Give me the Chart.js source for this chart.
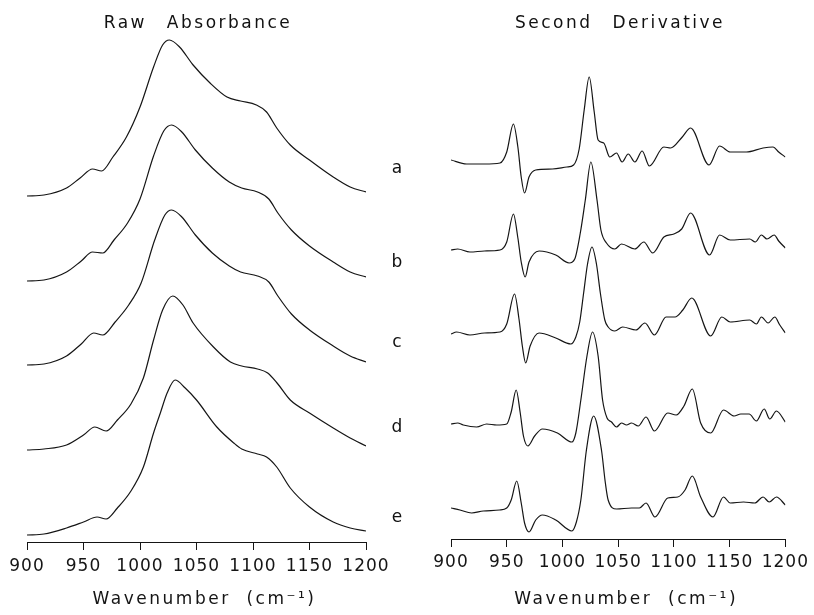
<!DOCTYPE html>
<html>
<head>
<meta charset="utf-8">
<script src="https://cdn.jsdelivr.net/npm/chart.js@4.4.1/dist/chart.umd.min.js"></script>
<style>
html,body{margin:0;padding:0;background:#fff;}
#wrap{position:relative;width:814px;height:615px;overflow:hidden;background:#fff;}
canvas{position:absolute;top:0;}
#cRaw{left:0;}
#cDer{left:405px;}
.t{position:absolute;font-family:'DejaVu Sans',sans-serif;color:#111;white-space:pre;transform:translate(-50%,-50%);line-height:1;font-size:17px;}
.title{letter-spacing:2.5px;word-spacing:12px;}
</style>
</head>
<body>
<div id="wrap">
<canvas id="cRaw" width="405" height="615"></canvas>
<canvas id="cDer" width="409" height="615"></canvas>
</div>
<script>
// ---------- text ----------
const panelTitles = ['Raw Absorbance', 'Second Derivative'];
const axisTitle = 'Wavenumber  (cm\u207B\u00B9)';
const traceLabels = ['a', 'b', 'c', 'd', 'e'];
const xTicks = [900, 950, 1000, 1050, 1100, 1150, 1200];

// ---------- raw absorbance (relative to each trace's own baseline) ----------
const rawX_a = [900,915,935,947,958,966,976,988,1000,1012,1020,1026,1035,1047,1062,1077,1089,1103,1112,1121,1133,1150,1171,1186,1200];
const rawY_a = [0,0.01,0.08,0.18,0.27,0.25,0.39,0.59,0.89,1.29,1.51,1.56,1.49,1.31,1.13,0.99,0.95,0.91,0.84,0.68,0.51,0.36,0.19,0.09,0.04];
const rawX_b = [900,915,935,948,958,967,977,989,1000,1012,1021,1028,1037,1049,1064,1079,1090,1104,1114,1122,1134,1150,1171,1186,1200];
const rawY_b = [0,0.01,0.09,0.20,0.29,0.28,0.41,0.58,0.82,1.25,1.50,1.56,1.49,1.31,1.13,0.99,0.93,0.89,0.82,0.68,0.51,0.35,0.19,0.09,0.04];
const rawX_c = [900,915,935,948,959,967,978,990,1001,1013,1022,1028,1037,1049,1064,1079,1089,1104,1114,1122,1134,1150,1171,1186,1200];
const rawY_c = [0,0.01,0.09,0.21,0.32,0.30,0.43,0.60,0.82,1.25,1.50,1.55,1.48,1.30,1.12,0.99,0.93,0.89,0.83,0.69,0.51,0.35,0.19,0.09,0.03];
const rawX_d = [900,915,935,950,960,970,980,992,1003,1012,1020,1029,1038,1047,1065,1080,1090,1104,1113,1122,1133,1150,1171,1186,1200];
const rawY_d = [0,0.01,0.05,0.15,0.23,0.19,0.30,0.46,0.72,1.10,1.40,1.54,1.45,1.27,1.03,0.88,0.84,0.81,0.77,0.66,0.50,0.37,0.22,0.12,0.04];
const rawX_e = [900,915,935,950,962,970,980,992,1003,1012,1018,1024,1031,1040,1050,1068,1083,1090,1104,1112,1121,1133,1150,1171,1186,1200];
const rawY_e = [0,0.01,0.07,0.13,0.18,0.16,0.27,0.44,0.68,1.02,1.22,1.42,1.55,1.47,1.35,1.08,0.92,0.86,0.81,0.78,0.68,0.47,0.28,0.13,0.07,0.04];
const rawOffsets = [3.46, 2.61, 1.77, 0.92, 0.07];

// ---------- second derivative (relative to each trace's own baseline) ----------
const derX_a = [900,914,930,944,950,956,960,963,966,970,976,991,1004,1010,1015,1019.5,1024,1028.5,1032,1037,1042.5,1048.5,1053.5,1059,1065,1071.5,1078,1091,1097,1107.5,1115,1131.5,1141,1150.5,1165,1180,1189,1194,1200];
const derY_a = [0,-0.04,-0.04,-0.03,0.08,0.36,0.13,-0.17,-0.33,-0.17,-0.10,-0.09,-0.07,-0.05,0.11,0.50,0.83,0.48,0.20,0.17,0.03,0.07,-0.02,0.06,-0.02,0.09,-0.06,0.13,0.12,0.23,0.32,-0.05,0.14,0.08,0.08,0.12,0.13,0.08,0.03];
const derX_b = [900,906,917,930,944,950,956,960,963,966.5,970,979,994,1006,1011,1016,1020.5,1025.5,1031,1034.5,1039.5,1047,1053,1065,1073,1081,1091,1100,1107,1115,1132,1141,1150.5,1168,1173,1178.5,1183.5,1190,1194,1200];
const derY_b = [0,0.01,-0.02,-0.01,0,0.08,0.36,0.12,-0.12,-0.27,-0.12,-0.01,-0.05,-0.13,-0.09,0.17,0.50,0.88,0.50,0.20,0.07,0.01,0.06,0.01,0.08,-0.03,0.13,0.16,0.21,0.37,-0.05,0.15,0.10,0.11,0.08,0.15,0.11,0.15,0.09,0.02];
const derX_c = [900,905,917,930,944,950,957,961,964,967,971,979,994,1007.5,1012,1015.5,1019,1022.5,1026.5,1030.5,1034,1038,1041,1047,1054,1066,1074,1082.5,1093,1101,1108,1116,1133,1143,1150.5,1168,1174,1178.5,1184.5,1190.5,1195,1200];
const derY_c = [0,0.02,-0.01,0.01,0.02,0.10,0.40,0.15,-0.12,-0.29,-0.12,0.01,-0.04,-0.10,-0.03,0.12,0.41,0.70,0.87,0.70,0.41,0.14,0.07,0.03,0.07,0.04,0.11,-0.01,0.17,0.17,0.24,0.36,-0.02,0.17,0.12,0.14,0.10,0.17,0.11,0.17,0.09,0.01];
const derX_d = [900,906,911,923,932,941,950,954,958.5,962,965,969,975,982,995.5,1008.5,1012,1016.5,1022,1027,1032,1036,1040,1044,1048.5,1053,1057.5,1062,1068,1075,1082.5,1094.5,1102,1109,1116.5,1124,1133,1144.5,1154,1160,1167.5,1174,1181,1186,1192,1200];
const derY_d = [0,0.01,-0.01,-0.03,0,-0.01,0,0.12,0.34,0.12,-0.12,-0.22,-0.12,-0.05,-0.09,-0.18,-0.09,0.24,0.68,0.92,0.68,0.24,0.06,0.02,-0.03,0.01,-0.01,0.01,-0.02,0.07,-0.07,0.11,0.09,0.18,0.35,0.01,-0.09,0.14,0.08,0.10,0.10,0.03,0.15,0.05,0.13,0.02];
const derX_e = [900,908,918.5,929,943.5,950,954,959,963,966,970,976,982,994,1008.5,1012.5,1016.5,1021.5,1028,1035,1038.5,1041,1048.5,1062,1069,1075,1083,1094.5,1103.5,1110,1116.5,1124,1135,1144.5,1150.5,1162.5,1172.5,1180,1185.5,1192,1200];
const derY_e = [0,-0.02,-0.05,-0.03,-0.02,0,0.08,0.27,0.05,-0.15,-0.24,-0.12,-0.07,-0.12,-0.23,-0.14,0.08,0.58,0.92,0.58,0.25,0.08,-0.01,0,0,0.05,-0.09,0.10,0.11,0.18,0.32,0.11,-0.09,0.11,0.05,0.06,0.05,0.11,0.06,0.11,0.03];
const derOffsets = [3.79, 2.89, 2.05, 1.15, 0.31];

// ---------- build ----------
const FONT = "'DejaVu Sans', sans-serif";
const INK = '#151515';

function buildDatasets(xs, ys, offs) {
  return xs.map((xArr, i) => ({
    label: traceLabels[i],
    data: xArr.map((x, j) => ({ x: x, y: ys[i][j] + offs[i] })),
    borderColor: INK,
    borderWidth: 1.2,
    pointRadius: 0,
    fill: false,
    cubicInterpolationMode: 'monotone'
  }));
}

const spacingPlugin = {
  id: 'spacing',
  beforeLayout(chart) { chart.ctx.letterSpacing = '1px'; },
  beforeDraw(chart) {
    chart.ctx.letterSpacing = '1px';
    const s = chart.scales.x;
    if (!s._spaced) {
      const orig = s.drawTitle;
      s.drawTitle = function () {
        const c = this.ctx;
        c.save();
        c.letterSpacing = '2.5px';
        c.translate(8, 0);
        orig.apply(this, arguments);
        c.restore();
      };
      s._spaced = true;
    }
  }
};

function makeChart(id, datasets, yMax, pad, tickPad, axisH) {
  return new Chart(document.getElementById(id), {
    type: 'line',
    data: { datasets: datasets },
    options: {
      responsive: false,
      animation: false,
      events: [],
      layout: { padding: pad },
      plugins: { legend: { display: false }, tooltip: { enabled: false }, title: { display: false } },
      scales: {
        x: {
          type: 'linear',
          position: 'bottom',
          min: 900,
          max: 1200,
          afterBuildTicks(s) { s.ticks = xTicks.map(v => ({ value: v })); },
          afterFit(s) { s.height = axisH; },
          ticks: {
            color: INK,
            padding: tickPad,
            maxRotation: 0,
            autoSkip: false,
            font: { family: FONT, size: 17 },
            callback: v => String(v)
          },
          grid: { drawOnChartArea: false, drawTicks: true, tickLength: 8, color: INK, lineWidth: 1 },
          border: { display: true, color: INK, width: 1 },
          title: { display: true, text: axisTitle, color: INK, font: { family: FONT, size: 17 }, padding: { top: 0, bottom: 5 } }
        },
        y: { display: false, min: 0, max: yMax }
      }
    },
    plugins: [spacingPlugin]
  });
}

makeChart('cRaw',
  buildDatasets([rawX_a, rawX_b, rawX_c, rawX_d, rawX_e], [rawY_a, rawY_b, rawY_c, rawY_d, rawY_e], rawOffsets),
  5.12, { left: 27, right: 39, top: 30, bottom: 0 }, 6, 73);

makeChart('cDer',
  buildDatasets([derX_a, derX_b, derX_c, derX_d, derX_e], [derY_a, derY_b, derY_c, derY_d, derY_e], derOffsets),
  5.09, { left: 46, right: 25, top: 30, bottom: 0 }, 5, 76);

// ---------- html text ----------
const wrap = document.getElementById('wrap');
const titleCenters = [[198, 22], [620, 22]];
panelTitles.forEach((t, i) => {
  const d = document.createElement('div');
  d.className = 't title';
  d.textContent = t;
  d.style.left = titleCenters[i][0] + 'px';
  d.style.top = titleCenters[i][1] + 'px';
  wrap.appendChild(d);
});
const labelCenters = [167, 261, 341, 426, 516];
traceLabels.forEach((t, i) => {
  const d = document.createElement('div');
  d.className = 't';
  d.textContent = t;
  d.style.left = '397px';
  d.style.top = labelCenters[i] + 'px';
  wrap.appendChild(d);
});
</script>
</body>
</html>
